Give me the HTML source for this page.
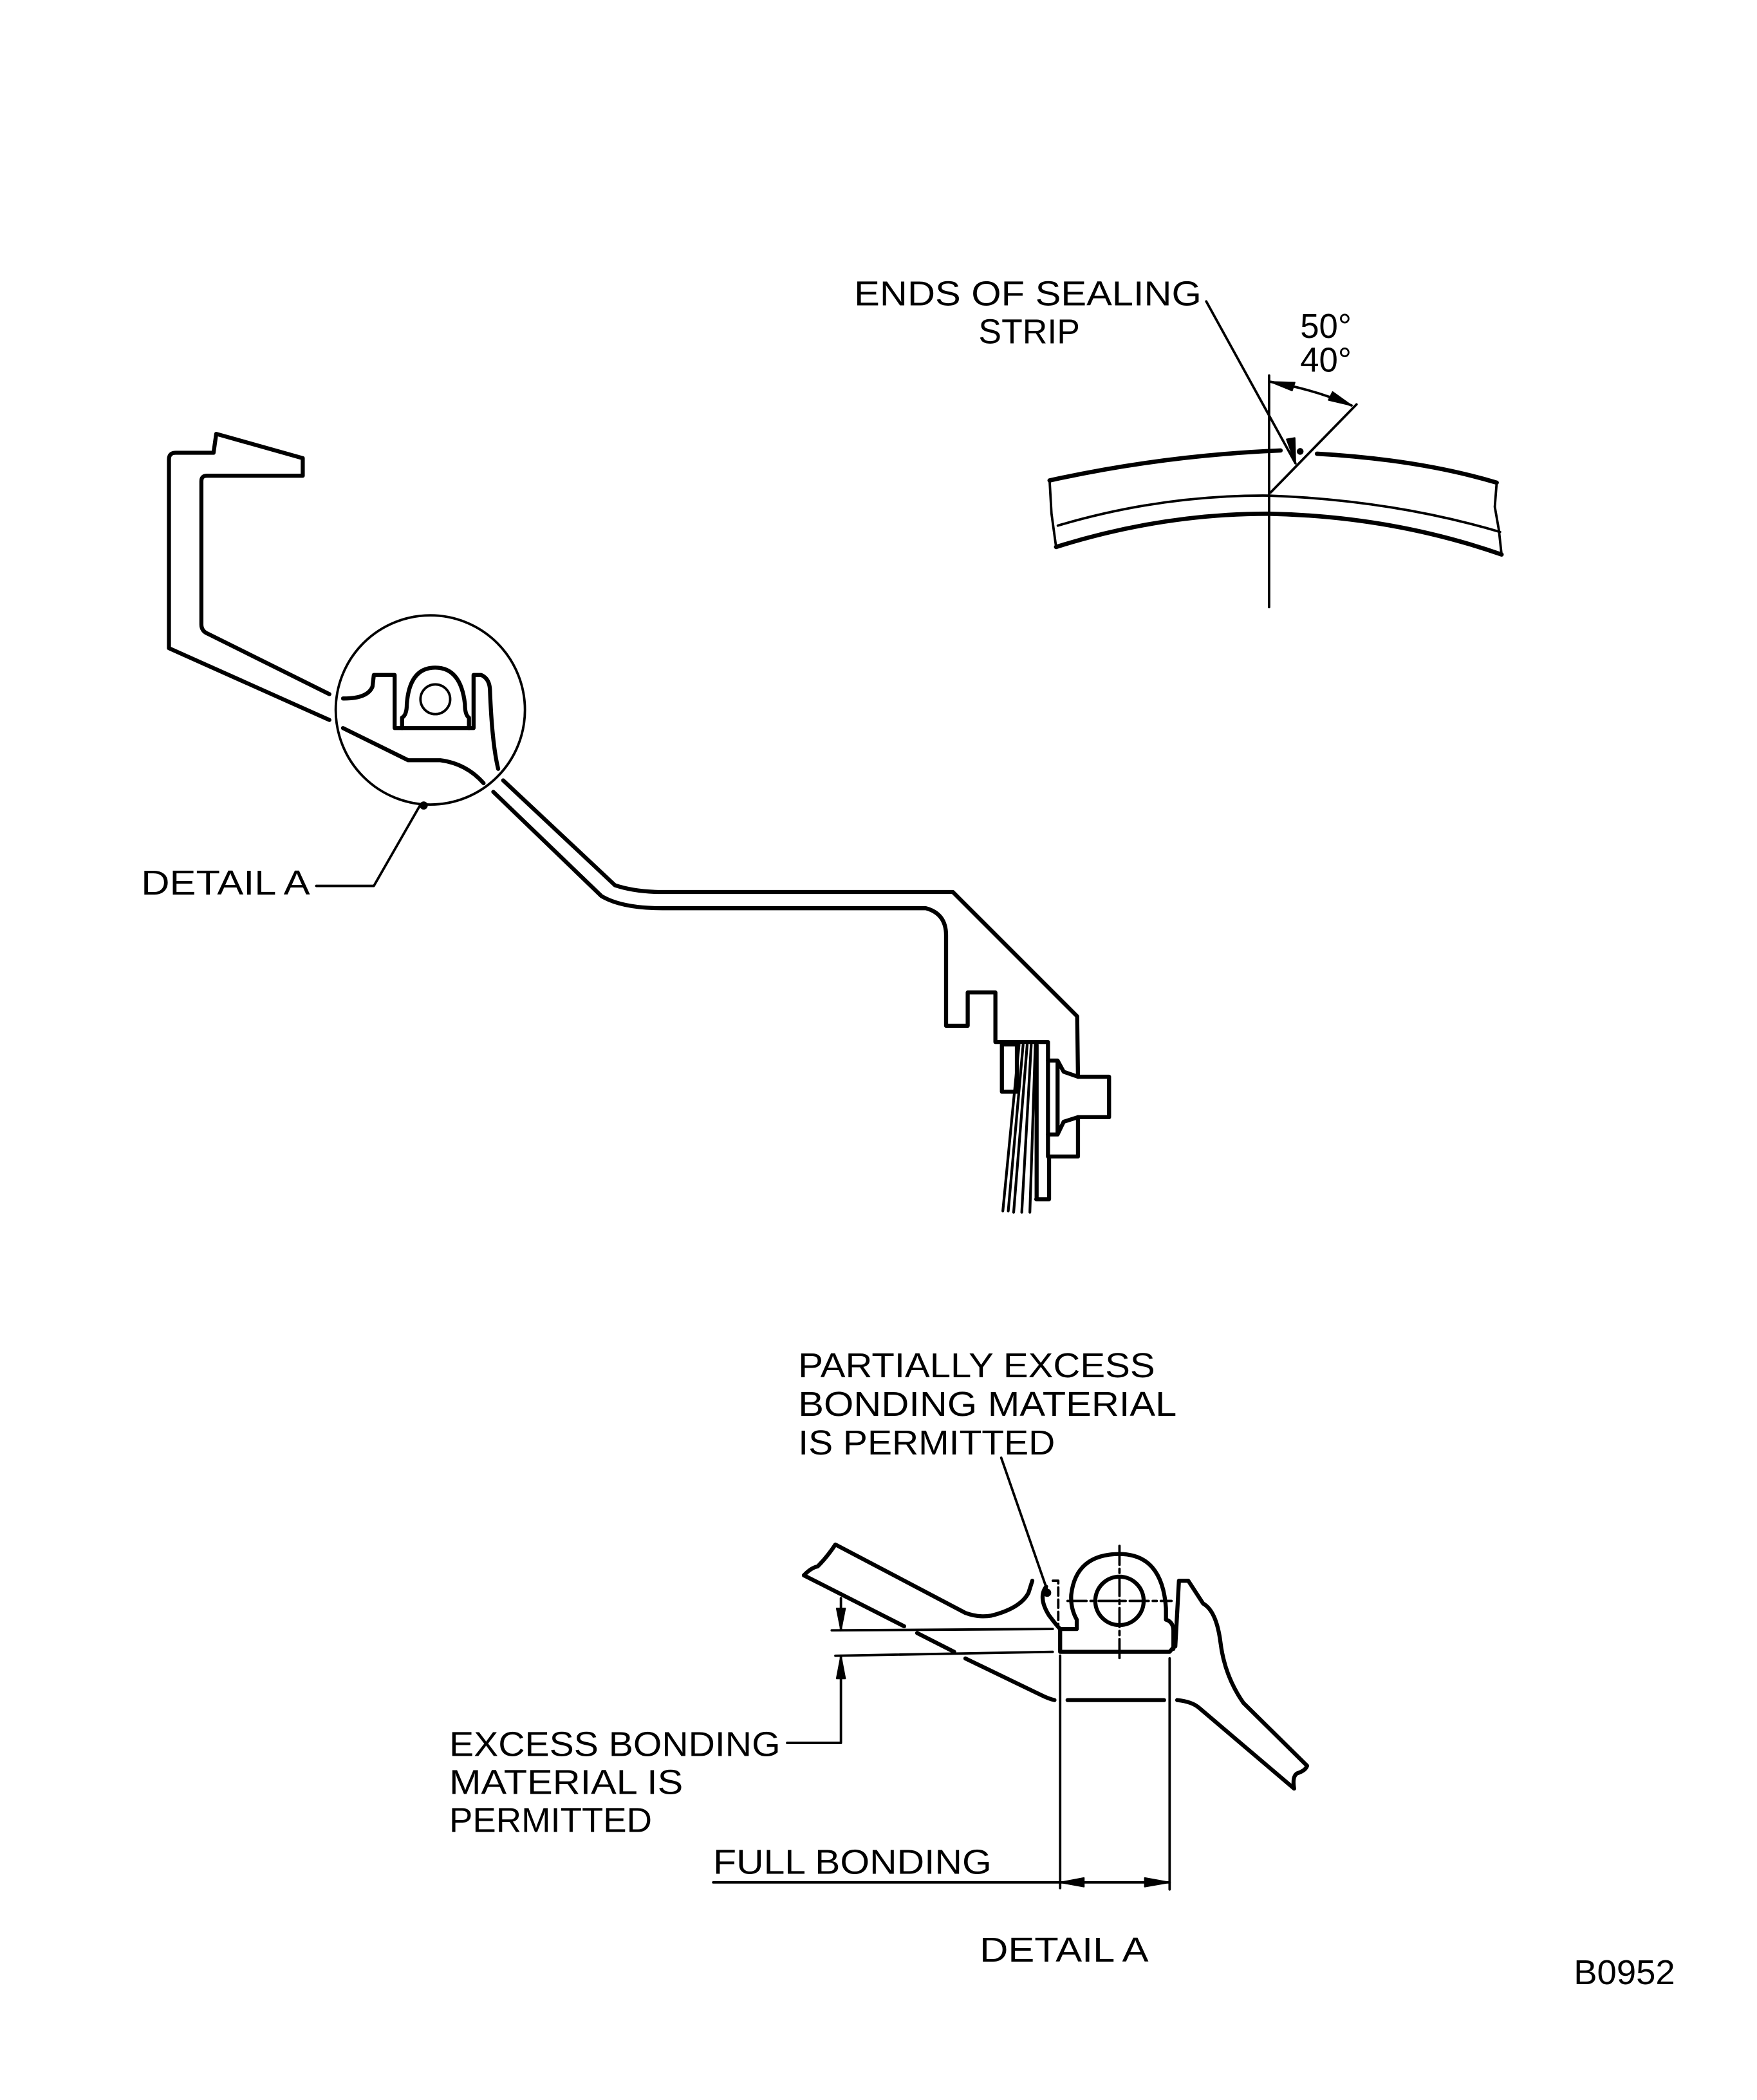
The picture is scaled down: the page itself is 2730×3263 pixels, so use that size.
<!DOCTYPE html>
<html><head><meta charset="utf-8"><style>
html,body{margin:0;padding:0;background:#fff}
svg{display:block}
text{font-family:"Liberation Sans",sans-serif;font-size:25.5px;fill:#000}
</style></head><body>
<svg width="2730" height="3263" viewBox="0 0 1300 1553.8" xmlns="http://www.w3.org/2000/svg">
<g fill="none" stroke="#000" stroke-linejoin="round" stroke-linecap="round">
<g stroke-width="3">
<path d="M243.7,513.6 L154,469 Q149,467 149,462 L149,356 Q149,352 153,352 L224,352 L224,339 L160,321 L158,335 L130,335 Q125,335 125,340 L125,479.6 L243.7,532.7"/>
<path d="M253.8,538.7 L302,562.5 L325.8,562.5 Q345,565 357.8,579.5"/>
<path d="M253.8,516.8 Q272,517 275.6,508 L276.6,499.4 L292,499.4 L292,538.7 L350.4,538.7 L350.4,499.4 L356,499.4 Q362,502 362.5,510 Q364,550 368.6,568.9"/>
<path d="M297.5,538.7 L297.5,531 Q301,529 301,521 Q303,494 322,494 Q341,494 344,521 Q344,529 347,531 L347,538.7"/>
<path d="M372.3,577.4 L455,655 Q470,660 490,660 L705,660 L797,752 L797.6,796.7 L820.6,796.7 L820.6,826.6 L797.6,826.6 L797.6,855.7 L776.2,855.7 L776.2,887.3 L766.7,887.3"/>
<path d="M365,585.9 L445,663 Q460,672 490,672 L685,672 Q700,676 700,692 L700,759 L716,759 L716,734.3 L736.5,734.3 L736.5,771 L775,771"/>
<rect x="741.3" y="772.8" width="11.1" height="35"/>
<path d="M767,773 L767,887 M775.4,771 L775.4,855.7"/>
<path d="M775.4,784.7 L782.5,784.7 L787,793 L797.6,796.7 M775.4,839.4 L782.5,839.4 L787,830 L797.6,826.6 M782.5,784.7 L782.5,839.4"/>
</g>
<g stroke-width="2">
<path d="M754,773 L742,896 M757,773 L746,896 M760,773 L750,897 M763,773 L756,897 M766,773 L762,897"/>
</g>
<g stroke-width="1.8">
<circle cx="318.4" cy="525.3" r="70"/>
<circle cx="322.1" cy="517.4" r="11"/>
<path d="M311,595.5 L276.6,655.5 L234,655.5"/>
</g>
<circle cx="313.5" cy="596" r="3" fill="#000" stroke="none"/>

<g stroke-width="3.2">
<path d="M776.6,355.5 Q860,337 947.5,333.3"/>
<path d="M974.4,335.7 Q1050,340 1107.4,357.1"/>
<path d="M781.4,404.7 Q860,380 939,380.1 Q1030,382 1111,410.3"/>
</g>
<g stroke-width="1.8">
<path d="M782.7,388.9 Q860,366 939,366.7 Q1030,370 1109.9,393.6"/>
<path d="M776.6,355.5 L778,380 L781.4,404.7"/>
<path d="M1107.4,357.1 L1106,375 L1109,392 L1111,410.3"/>
<path d="M939,277.8 L939,449.2"/>
<path d="M940.2,364.3 L1003.7,299.2"/>
<path d="M892.5,223 L958.5,342.8"/>
<path d="M940,282.5 Q972,288 1000,300"/>
</g>
<circle cx="962" cy="334" r="2.5" fill="#000" stroke="none"/>
<polygon points="958.5,342.8 952,325 958,324" fill="#000"/>
<polygon points="940,282.5 958,283 956,289" fill="#000"/>
<polygon points="1000,300 983,296 986,290" fill="#000"/>

<g stroke-width="3">
<path d="M594.8,1165.6 Q600,1160 605,1159 Q612,1152 618.1,1142.8 L714.3,1193.4 Q724,1197 733.5,1195.4 Q755,1190 761,1178.5 L763.8,1169.6"/>
<path d="M594.8,1165.6 L669,1203.3 M678.6,1208.3 L706,1222.2 M714.3,1227.1 L770,1254 Q776,1257 780.2,1257.9"/>
<path d="M789.9,1257.9 L861.3,1257.9"/>
<path d="M871,1257.9 Q882,1259 887.4,1263.8 L957.5,1323.4 Q956,1314 960,1312 Q966,1310 967.1,1306.5 L920,1260 Q906,1240 903,1215 Q900,1192 890.2,1186.5 L879.2,1169.6 L872.3,1169.6 L869.6,1218.2"/>
<path d="M784.4,1205.3 L784.4,1222.2 L865.4,1222.2 L869,1218"/>
<path d="M784.4,1205.3 L796.7,1205.3 L796.7,1198.4 Q792,1190 792.6,1180 Q796,1150 828.3,1149.8 Q860,1150 862.7,1190 L862.7,1198.4 Q868,1200 868.2,1206.3 L868.2,1220"/>
<circle cx="828.3" cy="1184.5" r="17.9"/>
<path d="M774,1174 Q768,1182 776,1195 Q782,1203 784.4,1205.3"/>
</g>
<g stroke-width="1.8">
<path d="M828.3,1143.8 L828.3,1227.1 M789.9,1184.5 L866.8,1184.5" stroke-dasharray="14,3,3,3"/>
<path d="M779,1169.6 L783,1169.6 L783,1202" stroke-dasharray="6,3"/>
<path d="M740.8,1078.6 L774.8,1176.5"/>
<path d="M615.4,1206.3 L778.9,1205.3 M618.1,1225.1 L778.9,1222.2"/>
<path d="M622.2,1182.5 L622.2,1206.3 M622.2,1225.1 L622.2,1289.6 L582.4,1289.6"/>
<path d="M784.4,1225 L784.4,1397 M865.4,1227 L865.4,1398"/>
<path d="M784.4,1392.8 L865.4,1392.8 M527.7,1392.8 L784.4,1392.8"/>
</g>
<circle cx="774.8" cy="1178.5" r="3" fill="#000" stroke="none"/>
<polygon points="622.2,1206.3 619,1190 625.4,1190" fill="#000"/>
<polygon points="622.2,1225.1 619,1242 625.4,1242" fill="#000"/>
<polygon points="784.4,1392.8 802,1389.5 802,1396" fill="#000"/>
<polygon points="865.4,1392.8 847,1389.5 847,1396" fill="#000"/>
</g>

<text x="632" y="226" textLength="257" lengthAdjust="spacingAndGlyphs">ENDS OF SEALING</text>
<text x="724" y="254" textLength="75" lengthAdjust="spacingAndGlyphs">STRIP</text>
<text x="962" y="250" textLength="38" lengthAdjust="spacingAndGlyphs">50°</text>
<text x="962" y="275" textLength="38" lengthAdjust="spacingAndGlyphs">40°</text>
<text x="104.4" y="662" textLength="125" lengthAdjust="spacingAndGlyphs">DETAIL A</text>
<text x="590.6" y="1019" textLength="264" lengthAdjust="spacingAndGlyphs">PARTIALLY EXCESS</text>
<text x="590.6" y="1047.7" textLength="280" lengthAdjust="spacingAndGlyphs">BONDING MATERIAL</text>
<text x="590.6" y="1076.3" textLength="190" lengthAdjust="spacingAndGlyphs">IS PERMITTED</text>
<text x="332.4" y="1299.2" textLength="245" lengthAdjust="spacingAndGlyphs">EXCESS BONDING</text>
<text x="332.4" y="1327.5" textLength="173" lengthAdjust="spacingAndGlyphs">MATERIAL IS</text>
<text x="332.4" y="1355.5" textLength="150" lengthAdjust="spacingAndGlyphs">PERMITTED</text>
<text x="527.7" y="1386.5" textLength="206" lengthAdjust="spacingAndGlyphs">FULL BONDING</text>
<text x="724.8" y="1451.4" textLength="125" lengthAdjust="spacingAndGlyphs">DETAIL A</text>
<text x="1164.4" y="1468.2" textLength="75" lengthAdjust="spacingAndGlyphs">B0952</text>
</svg>
</body></html>
